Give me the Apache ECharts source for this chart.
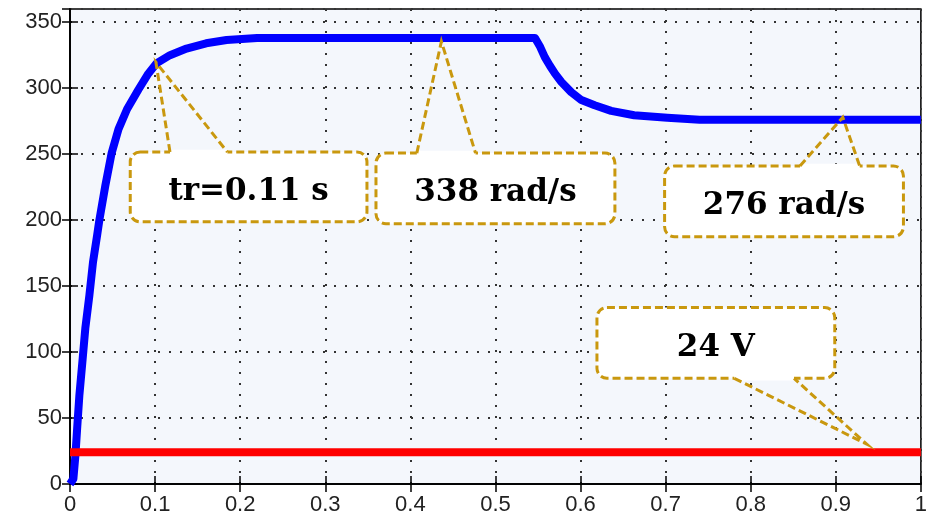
<!DOCTYPE html>
<html><head><meta charset="utf-8">
<script src="https://cdn.jsdelivr.net/npm/echarts@6/dist/echarts.min.js"></script>
<style>html,body{margin:0;padding:0;background:#fff}#c{width:930px;height:516px}</style>
</head><body><div id="c"></div>
<script>
// ---- data ----
const time = [0, 0.004, 0.0064, 0.0084, 0.011, 0.0146, 0.018, 0.0228, 0.027, 0.032, 0.0345, 0.0415, 0.049, 0.057, 0.067, 0.0805, 0.092, 0.102, 0.1175, 0.137, 0.16, 0.184, 0.22, 0.3, 0.4, 0.5, 0.5465, 0.552, 0.558, 0.564, 0.57, 0.5775, 0.589, 0.601, 0.6166, 0.636, 0.663, 0.702, 0.74, 0.8, 0.9, 1.0];
const speed = [0, 4, 22, 42, 67, 93, 118, 143, 168, 189, 200, 226, 251, 269, 284, 299, 311, 319, 325, 330, 334, 336.5, 338, 338, 338, 338, 338, 332, 323.5, 317, 311, 304.7, 297, 291, 287, 282.8, 279.5, 277.5, 276, 276, 276, 276];
const refTime = [0, 1];
const refVoltage = [24, 24];
const xTickLabels = ['0', '0.1', '0.2', '0.3', '0.4', '0.5', '0.6', '0.7', '0.8', '0.9', '1'];
const yTickLabels = ['0', '50', '100', '150', '200', '250', '300', '350'];
const calloutTexts = ['tr=0.11 s', '338 rad/s', '276 rad/s', '24 V'];
const calloutTips = [[0.101, 319.6], [0.4365, 335.4], [0.9082, 278], [0.9363, 30.2]];

// ---- callout layout (data coordinates of box and pointer base) ----
const calloutLayout = [
  { box: [0.0708, 0.349, 198.7, 251.6], edge: 'top', base: [0.1175, 0.185] },
  { box: [0.3596, 0.6404, 197.2, 250.8], edge: 'top', base: [0.4076, 0.4766] },
  { box: [0.6988, 0.9795, 187.4, 241], edge: 'top', base: [0.8579, 0.9281] },
  { box: [0.6193, 0.8988, 80.1, 133.7], edge: 'bottom', base: [0.7807, 0.8509] }
];

const gold = '#c9980e';
const chart = echarts.init(document.getElementById('c'), null, { renderer: 'canvas' });

const axisFont = { fontSize: 22, fontFamily: '"Liberation Sans", Arial, sans-serif', color: '#222' };
const gridLine = { show: true, lineStyle: { type: [2, 9], color: '#333', width: 2 } };
const lineStyleAxis = { color: '#000', width: 1.5 };

chart.setOption({
  animation: false,
  backgroundColor: '#fff',
  grid: { left: 70, right: 5, top: 9, bottom: 31, show: true, backgroundColor: '#f4f7fc', borderColor: '#000', borderWidth: 1.5 },
  xAxis: [
    { type: 'value', min: 0, max: 1, interval: 0.1, position: 'bottom',
      axisLine: { show: true, lineStyle: lineStyleAxis },
      axisTick: { show: true, inside: true, length: 8, lineStyle: lineStyleAxis },
      axisLabel: Object.assign({ margin: 10, formatter: v => xTickLabels[Math.round(v * 10)] }, axisFont),
      splitLine: gridLine },
    { type: 'value', min: 0, max: 1, interval: 0.1, position: 'top',
      axisLine: { show: true, lineStyle: lineStyleAxis },
      axisTick: { show: true, inside: true, length: 8, lineStyle: lineStyleAxis },
      axisLabel: { show: false }, splitLine: { show: false } }
  ],
  yAxis: [
    { type: 'value', min: 0, max: 360, interval: 50, position: 'left',
      axisLine: { show: true, lineStyle: lineStyleAxis },
      axisTick: { show: true, inside: true, length: 8, lineStyle: lineStyleAxis },
      axisLabel: Object.assign({ margin: 8, showMaxLabel: false, formatter: v => (v % 50 === 0 ? yTickLabels[v / 50] : '') }, axisFont),
      splitLine: gridLine },
    { type: 'value', min: 0, max: 360, interval: 50, position: 'right',
      axisLine: { show: true, lineStyle: lineStyleAxis },
      axisTick: { show: true, inside: true, length: 8, lineStyle: lineStyleAxis },
      axisLabel: { show: false }, splitLine: { show: false } }
  ],
  series: [
    { type: 'line', xAxisIndex: 0, yAxisIndex: 0, showSymbol: false, symbol: 'none',
      data: time.map((t, i) => [t, speed[i]]),
      lineStyle: { color: '#0000ff', width: 8, join: 'round' }, z: 3 },
    { type: 'line', xAxisIndex: 0, yAxisIndex: 0, showSymbol: false, symbol: 'none',
      data: refTime.map((t, i) => [t, refVoltage[i]]),
      lineStyle: { color: '#ff0000', width: 8 }, z: 4 }
  ]
});

const px = (t, v) => chart.convertToPixel({ seriesIndex: 0 }, [t, v]);
const elements = [];
calloutLayout.forEach((c, i) => {
  const tl = px(c.box[0], c.box[3]);
  const br = px(c.box[1], c.box[2]);
  const x = tl[0], y = tl[1], w = br[0] - tl[0], h = br[1] - tl[1];
  const edgeY = c.edge === 'top' ? y : y + h;
  const b0 = px(c.base[0], 0)[0], b1 = px(c.base[1], 0)[0];
  const tip = px(calloutTips[i][0], calloutTips[i][1]);
  elements.push({ type: 'rect', z: 100, shape: { x, y, width: w, height: h, r: 10 },
    style: { fill: '#fff', stroke: gold, lineWidth: 3, lineDash: [8, 4] } });
  elements.push({ type: 'line', z: 101, shape: { x1: b0, y1: edgeY, x2: b1, y2: edgeY },
    style: { stroke: '#fff', lineWidth: 4.5 } });
  elements.push({ type: 'polyline', z: 102, shape: { points: [[b0, edgeY], tip, [b1, edgeY]] },
    style: { fill: null, stroke: gold, lineWidth: 3, lineDash: [8, 4] } });
  elements.push({ type: 'text', z: 103, x: x + w / 2, y: y + h / 2 + 5,
    style: { text: calloutTexts[i], font: 'bold 31px "DejaVu Serif"', fill: '#000',
      textAlign: 'center', textVerticalAlign: 'middle', align: 'center', verticalAlign: 'middle' } });
});
chart.setOption({ graphic: { elements } });
</script>
</body></html>
